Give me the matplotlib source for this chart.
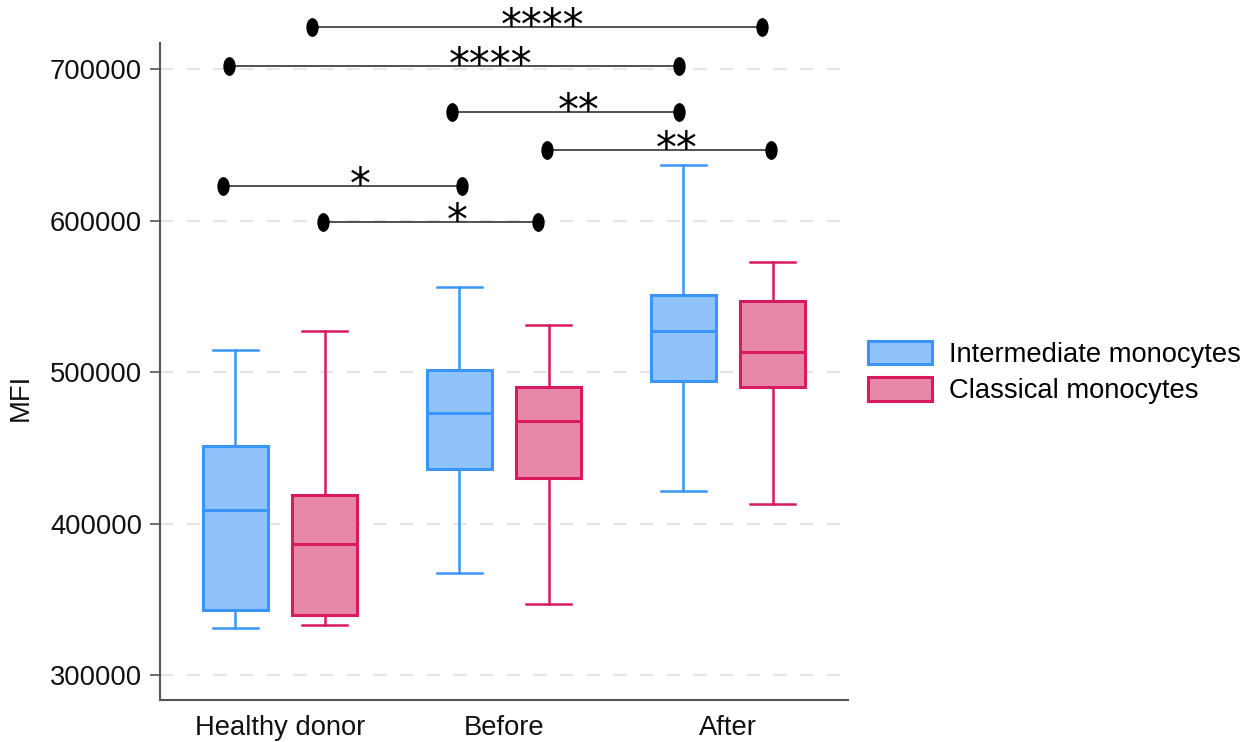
import matplotlib
matplotlib.use('Agg')
import matplotlib.pyplot as plt
from matplotlib.patches import Patch
from matplotlib.path import Path

plt.rcParams['font.family'] = ['Liberation Sans', 'DejaVu Sans']

# ── Data ──────────────────────────────────────────────────────────────────────
groups = ['Healthy donor', 'Before', 'After']
series = ['Intermediate monocytes', 'Classical monocytes']

# five-number summaries per group: whislo, q1, median, q3, whishi
inter_stats = [
    [331000, 343000, 409000, 451500, 515000],
    [367500, 436500, 473000, 501500, 556500],
    [421500, 494500, 527500, 551000, 637000],
]
classic_stats = [
    [333000, 340000, 387000, 419000, 527000],
    [347000, 430500, 468000, 490000, 531000],
    [413000, 490000, 513500, 547000, 573000],
]

# significance brackets (x in group units, y in MFI)
brk_x0 = [0.143, -0.228, 0.768, 1.192, -0.254, 0.192]
brk_x1 = [2.152, 1.781, 1.781, 2.192, 0.813, 1.152]
brk_y = [727900, 702200, 671800, 646700, 623000, 599200]
brk_star_x = [1.174, 0.9375, 1.335, 1.772, 0.357, 0.79]
brk_label = ['****', '****', '**', '**', '*', '*']

yticks = [300000, 400000, 500000, 600000, 700000]

# ── Style ─────────────────────────────────────────────────────────────────────
FILL = ['#90C3FB', '#E888A8']
EDGE = ['#3A95F6', '#D81B60']
OFFSET = 0.2
FS = 19.7


def _to_bxp(rows):
    return [dict(whislo=r[0], q1=r[1], med=r[2], q3=r[3], whishi=r[4], fliers=[])
            for r in rows]


fig = plt.figure(figsize=(12.55, 7.42), dpi=100)
ax = fig.add_axes([160 / 1255, 1 - 700 / 742, 688 / 1255, 657 / 742])

for i, stats in enumerate([inter_stats, classic_stats]):
    pos = [g + (-OFFSET if i == 0 else OFFSET) for g in range(len(groups))]
    ax.bxp(_to_bxp(stats), positions=pos, widths=0.29, capwidths=0.2,
           patch_artist=True, showfliers=False,
           boxprops=dict(facecolor=FILL[i], edgecolor=EDGE[i], linewidth=2.2),
           medianprops=dict(color=EDGE[i], linewidth=2.2),
           whiskerprops=dict(color=EDGE[i], linewidth=1.8),
           capprops=dict(color=EDGE[i], linewidth=1.8),
           zorder=3)

# bracket end dots are tall ellipses
_circ = Path.unit_circle()
dot = Path(_circ.vertices * [0.63, 1.0], _circ.codes)

for x0, x1, y, sx, lab in zip(brk_x0, brk_x1, brk_y, brk_star_x, brk_label):
    ax.plot([x0, x1], [y, y], color='#222222', lw=1.1, clip_on=False, zorder=4)
    ax.plot([x0, x1], [y, y], ls='none', marker=dot, ms=12.5, color='black',
            clip_on=False, zorder=5)
    ax.annotate(lab, (sx, y), xytext=(0, -8.5), textcoords='offset points',
                ha='center', va='baseline', fontsize=30, family='DejaVu Sans',
                color='black', annotation_clip=False, zorder=6)

ax.set_xlim(-0.536, 2.536)
ax.set_ylim(283700, 717400)
ax.set_xticks(range(len(groups)))
ax.set_xticklabels(groups, fontsize=FS, color='#111111')
ax.set_yticks(yticks)
ax.set_yticklabels([str(v) for v in yticks], fontsize=FS, color='#111111')
ax.tick_params(axis='x', length=0, pad=11)
ax.tick_params(axis='y', length=7, width=1.2, color='#555555', pad=6)

ax.yaxis.grid(True, color='#E6E6E6', lw=1.6, ls=(0, (6, 6)), zorder=0)
ax.set_axisbelow(True)
for s in ['top', 'right']:
    ax.spines[s].set_visible(False)
for s in ['left', 'bottom']:
    ax.spines[s].set_color('#555555')
    ax.spines[s].set_linewidth(1.5)

ax.set_ylabel('MFI', fontsize=FS, color='#111111')
ax.yaxis.set_label_coords(-0.184, 0.46)

handles = [Patch(facecolor=FILL[i], edgecolor=EDGE[i], linewidth=2.2, label=series[i])
           for i in range(2)]
fig.legend(handles=handles, loc='center left', bbox_to_anchor=(868 / 1255, 1 - 372.5 / 742),
           frameon=False, fontsize=FS, handlelength=2.35, handleheight=0.95,
           handletextpad=0.62, labelspacing=0.35, borderpad=0, borderaxespad=0)

fig.savefig('out.png', dpi=100)
plt.close(fig)
